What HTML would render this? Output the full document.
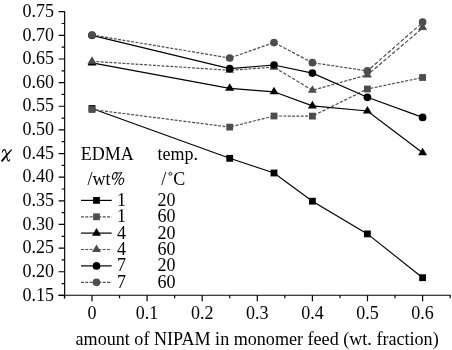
<!DOCTYPE html>
<html><head><meta charset="utf-8"><style>
html,body{margin:0;padding:0;background:#fff;width:452px;height:350px;overflow:hidden}
svg{display:block;filter:grayscale(1)}
text{font-family:"Liberation Serif",serif;font-size:18px;fill:#000}
</style></head><body>
<svg width="452" height="350" viewBox="0 0 452 350">
<path d="M64.65 11.15V298.38" stroke="#000" stroke-width="1.15" fill="none"/>
<path d="M58.35 295.18H450.75" stroke="#000" stroke-width="1.1" fill="none"/>
<path d="M58.65 295.38H64.65M61.65 283.56H64.65M58.65 271.74H64.65M61.65 259.92H64.65M58.65 248.10H64.65M61.65 236.28H64.65M58.65 224.46H64.65M61.65 212.64H64.65M58.65 200.82H64.65M61.65 189.00H64.65M58.65 177.18H64.65M61.65 165.36H64.65M58.65 153.54H64.65M61.65 141.72H64.65M58.65 129.90H64.65M61.65 118.08H64.65M58.65 106.26H64.65M61.65 94.44H64.65M58.65 82.62H64.65M61.65 70.80H64.65M58.65 58.98H64.65M61.65 47.16H64.65M58.65 35.34H64.65M61.65 23.52H64.65M58.65 11.70H64.65M64.45 295.18V298.18M92.00 295.18V301.18M119.55 295.18V298.18M147.10 295.18V301.18M174.65 295.18V298.18M202.20 295.18V301.18M229.75 295.18V298.18M257.30 295.18V301.18M284.85 295.18V298.18M312.40 295.18V301.18M339.95 295.18V298.18M367.50 295.18V301.18M395.05 295.18V298.18M422.60 295.18V301.18M450.15 295.18V298.18" stroke="#000" stroke-width="1.2" fill="none"/>
<text transform="translate(54.00 300.58) scale(1 1.0)" text-anchor="end">0.15</text>
<text transform="translate(54.00 276.94) scale(1 1.0)" text-anchor="end">0.20</text>
<text transform="translate(54.00 253.30) scale(1 1.0)" text-anchor="end">0.25</text>
<text transform="translate(54.00 229.66) scale(1 1.0)" text-anchor="end">0.30</text>
<text transform="translate(54.00 206.02) scale(1 1.0)" text-anchor="end">0.35</text>
<text transform="translate(54.00 182.38) scale(1 1.0)" text-anchor="end">0.40</text>
<text transform="translate(54.00 158.74) scale(1 1.0)" text-anchor="end">0.45</text>
<text transform="translate(54.00 135.10) scale(1 1.0)" text-anchor="end">0.50</text>
<text transform="translate(54.00 111.46) scale(1 1.0)" text-anchor="end">0.55</text>
<text transform="translate(54.00 87.82) scale(1 1.0)" text-anchor="end">0.60</text>
<text transform="translate(54.00 64.18) scale(1 1.0)" text-anchor="end">0.65</text>
<text transform="translate(54.00 40.54) scale(1 1.0)" text-anchor="end">0.70</text>
<text transform="translate(54.00 16.90) scale(1 1.0)" text-anchor="end">0.75</text>
<text transform="translate(92.00 319.40) scale(1 1.0)" text-anchor="middle">0</text>
<text transform="translate(147.10 319.40) scale(1 1.0)" text-anchor="middle">0.1</text>
<text transform="translate(202.20 319.40) scale(1 1.0)" text-anchor="middle">0.2</text>
<text transform="translate(257.30 319.40) scale(1 1.0)" text-anchor="middle">0.3</text>
<text transform="translate(312.40 319.40) scale(1 1.0)" text-anchor="middle">0.4</text>
<text transform="translate(367.50 319.40) scale(1 1.0)" text-anchor="middle">0.5</text>
<text transform="translate(422.60 319.40) scale(1 1.0)" text-anchor="middle">0.6</text>
<text transform="translate(257.10 344.80) scale(1 1.0)" text-anchor="middle" style="font-size:18.1px">amount of NIPAM in monomer feed (wt. fraction)</text>
<path d="M0.8 160.8C4 157.4 7.6 152.6 11.2 149.2L12.1 150C8.6 153.8 5.4 158.4 2.3 162Z" fill="#000"/>
<path d="M2.2 152.5C2.5 150.5 3.8 149.4 4.8 149.7C6 150.2 6.4 154 7 157.5C7.4 160 7.9 161.2 8.6 161.1C9.2 161 9.6 160.2 9.8 159.4" stroke="#000" stroke-width="1.15" fill="none"/>
<polyline points="92,108.5 229.7,158.3 274,173 312.4,201.2 367.4,233.9 422.6,277.7" stroke="#000" stroke-width="1.2" fill="none"/>
<rect x="88.60" y="105.10" width="6.8" height="6.8" fill="#000"/>
<rect x="226.30" y="154.90" width="6.8" height="6.8" fill="#000"/>
<rect x="270.60" y="169.60" width="6.8" height="6.8" fill="#000"/>
<rect x="309.00" y="197.80" width="6.8" height="6.8" fill="#000"/>
<rect x="364.00" y="230.50" width="6.8" height="6.8" fill="#000"/>
<rect x="419.20" y="274.30" width="6.8" height="6.8" fill="#000"/>
<line x1="92" y1="109.5" x2="229.7" y2="127.1" stroke="#4d4d4d" stroke-width="1.2" stroke-dasharray="2.924 1.462" stroke-dashoffset="0.000"/>
<line x1="229.7" y1="127.1" x2="274" y2="116" stroke="#4d4d4d" stroke-width="1.2" stroke-dasharray="2.990 1.495" stroke-dashoffset="141.957"/>
<line x1="274" y1="116" x2="312.4" y2="116.1" stroke="#4d4d4d" stroke-width="1.2" stroke-dasharray="2.900 1.450" stroke-dashoffset="182.001"/>
<line x1="312.4" y1="116.1" x2="367.4" y2="89" stroke="#4d4d4d" stroke-width="1.2" stroke-dasharray="3.233 1.616" stroke-dashoffset="245.702"/>
<line x1="367.4" y1="89" x2="422.6" y2="77.5" stroke="#4d4d4d" stroke-width="1.2" stroke-dasharray="2.962 1.481" stroke-dashoffset="281.313"/>
<rect x="88.60" y="106.10" width="6.8" height="6.8" fill="#4d4d4d"/>
<rect x="226.30" y="123.70" width="6.8" height="6.8" fill="#4d4d4d"/>
<rect x="270.60" y="112.60" width="6.8" height="6.8" fill="#4d4d4d"/>
<rect x="309.00" y="112.70" width="6.8" height="6.8" fill="#4d4d4d"/>
<rect x="364.00" y="85.60" width="6.8" height="6.8" fill="#4d4d4d"/>
<rect x="419.20" y="74.10" width="6.8" height="6.8" fill="#4d4d4d"/>
<polyline points="92,62.9 229.7,88.3 274,91.8 312.4,105.9 367.4,111 422.6,152.8" stroke="#000" stroke-width="1.2" fill="none"/>
<path d="M92 57.83L96.50 65.43H87.50Z" fill="#000"/>
<path d="M229.7 83.23L234.20 90.83H225.20Z" fill="#000"/>
<path d="M274 86.73L278.50 94.33H269.50Z" fill="#000"/>
<path d="M312.4 100.83L316.90 108.43H307.90Z" fill="#000"/>
<path d="M367.4 105.93L371.90 113.53H362.90Z" fill="#000"/>
<path d="M422.6 147.73L427.10 155.33H418.10Z" fill="#000"/>
<line x1="92" y1="61.3" x2="229.7" y2="70.3" stroke="#4d4d4d" stroke-width="1.2" stroke-dasharray="2.906 1.453" stroke-dashoffset="0.000"/>
<line x1="229.7" y1="70.3" x2="274" y2="67.1" stroke="#4d4d4d" stroke-width="1.2" stroke-dasharray="2.908 1.454" stroke-dashoffset="138.059"/>
<line x1="274" y1="67.1" x2="312.4" y2="90.3" stroke="#4d4d4d" stroke-width="1.2" stroke-dasharray="3.388 1.694" stroke-dashoffset="212.638"/>
<line x1="312.4" y1="90.3" x2="367.4" y2="74.9" stroke="#4d4d4d" stroke-width="1.2" stroke-dasharray="3.012 1.506" stroke-dashoffset="228.877"/>
<line x1="367.4" y1="74.9" x2="422.6" y2="28.1" stroke="#4d4d4d" stroke-width="1.2" stroke-dasharray="3.802 1.901" stroke-dashoffset="361.059"/>
<path d="M92 56.23L96.50 63.83H87.50Z" fill="#4d4d4d"/>
<path d="M229.7 65.23L234.20 72.83H225.20Z" fill="#4d4d4d"/>
<path d="M274 62.03L278.50 69.63H269.50Z" fill="#4d4d4d"/>
<path d="M312.4 85.23L316.90 92.83H307.90Z" fill="#4d4d4d"/>
<path d="M367.4 69.83L371.90 77.43H362.90Z" fill="#4d4d4d"/>
<path d="M422.6 22.33L427.10 29.93H418.10Z" fill="#4d4d4d"/>
<polyline points="92,35.3 229.7,68.7 274,65 312.4,73.1 367.4,97.3 422.6,117.4" stroke="#000" stroke-width="1.2" fill="none"/>
<circle cx="92" cy="35.3" r="3.85" fill="#000"/>
<circle cx="229.7" cy="68.7" r="3.85" fill="#000"/>
<circle cx="274" cy="65" r="3.85" fill="#000"/>
<circle cx="312.4" cy="73.1" r="3.85" fill="#000"/>
<circle cx="367.4" cy="97.3" r="3.85" fill="#000"/>
<circle cx="422.6" cy="117.4" r="3.85" fill="#000"/>
<line x1="92" y1="35.0" x2="229.7" y2="58" stroke="#4d4d4d" stroke-width="1.2" stroke-dasharray="2.940 1.470" stroke-dashoffset="0.000"/>
<line x1="229.7" y1="58" x2="274" y2="42.6" stroke="#4d4d4d" stroke-width="1.2" stroke-dasharray="3.070 1.535" stroke-dashoffset="145.783"/>
<line x1="274" y1="42.6" x2="312.4" y2="62.7" stroke="#4d4d4d" stroke-width="1.2" stroke-dasharray="3.273 1.637" stroke-dashoffset="205.425"/>
<line x1="312.4" y1="62.7" x2="367.4" y2="70.9" stroke="#4d4d4d" stroke-width="1.2" stroke-dasharray="2.932 1.466" stroke-dashoffset="222.836"/>
<line x1="367.4" y1="70.9" x2="422.6" y2="22.5" stroke="#4d4d4d" stroke-width="1.2" stroke-dasharray="3.857 1.928" stroke-dashoffset="366.271"/>
<circle cx="92" cy="35.0" r="3.85" fill="#4d4d4d"/>
<circle cx="229.7" cy="58" r="3.85" fill="#4d4d4d"/>
<circle cx="274" cy="42.6" r="3.85" fill="#4d4d4d"/>
<circle cx="312.4" cy="62.7" r="3.85" fill="#4d4d4d"/>
<circle cx="367.4" cy="70.9" r="3.85" fill="#4d4d4d"/>
<circle cx="422.6" cy="22.1" r="3.85" fill="#4d4d4d"/>
<text transform="translate(80.70 159.90) scale(1 1.0)">EDMA</text>
<text transform="translate(157.50 159.90) scale(1 1.0)">temp.</text>
<text transform="translate(87.60 185.20) scale(1 1.0)">/wt</text>
<g fill="none" stroke="#000"><ellipse cx="114.7" cy="175.9" rx="2.1" ry="3.4" transform="rotate(22 114.7 175.9)" stroke-width="1"/><path d="M115.6 172.5C117.5 173.4 119.8 173.4 121.9 172.3L114.5 184.8" stroke-width="1"/><ellipse cx="121.4" cy="181.3" rx="2.1" ry="3.4" transform="rotate(22 121.4 181.3)" stroke-width="1"/></g>
<text transform="translate(161.30 185.20) scale(1 1.0)">/</text><circle cx="170.4" cy="173.8" r="1.45" stroke="#000" stroke-width="0.85" fill="none"/><text transform="translate(173.20 185.20) scale(1 1.0)">C</text>
<path d="M81 200.4H111.7" stroke="#000" stroke-width="1.2"/>
<rect x="93.10" y="197.00" width="6.8" height="6.8" fill="#000"/>
<text transform="translate(117.10 205.80) scale(1 1.0)">1</text>
<text transform="translate(157.50 205.80) scale(1 1.0)">20</text>
<path d="M81 216.8H111.7" stroke="#4d4d4d" stroke-width="1.2" stroke-dasharray="2.9 1.45"/>
<rect x="93.10" y="213.40" width="6.8" height="6.8" fill="#4d4d4d"/>
<text transform="translate(117.10 222.20) scale(1 1.0)">1</text>
<text transform="translate(157.50 222.20) scale(1 1.0)">60</text>
<path d="M81 233.1H111.7" stroke="#000" stroke-width="1.2"/>
<path d="M96.5 228.03L101.00 235.63H92.00Z" fill="#000"/>
<text transform="translate(117.10 238.50) scale(1 1.0)">4</text>
<text transform="translate(157.50 238.50) scale(1 1.0)">20</text>
<path d="M81 249.5H111.7" stroke="#4d4d4d" stroke-width="1.2" stroke-dasharray="2.9 1.45"/>
<path d="M96.5 244.43L101.00 252.03H92.00Z" fill="#4d4d4d"/>
<text transform="translate(117.10 254.90) scale(1 1.0)">4</text>
<text transform="translate(157.50 254.90) scale(1 1.0)">60</text>
<path d="M81 265.9H111.7" stroke="#000" stroke-width="1.2"/>
<circle cx="96.5" cy="265.9" r="3.85" fill="#000"/>
<text transform="translate(117.10 271.30) scale(1 1.0)">7</text>
<text transform="translate(157.50 271.30) scale(1 1.0)">20</text>
<path d="M81 282.3H111.7" stroke="#4d4d4d" stroke-width="1.2" stroke-dasharray="2.9 1.45"/>
<circle cx="96.5" cy="282.3" r="3.85" fill="#4d4d4d"/>
<text transform="translate(117.10 287.70) scale(1 1.0)">7</text>
<text transform="translate(157.50 287.70) scale(1 1.0)">60</text>
</svg>
</body></html>
